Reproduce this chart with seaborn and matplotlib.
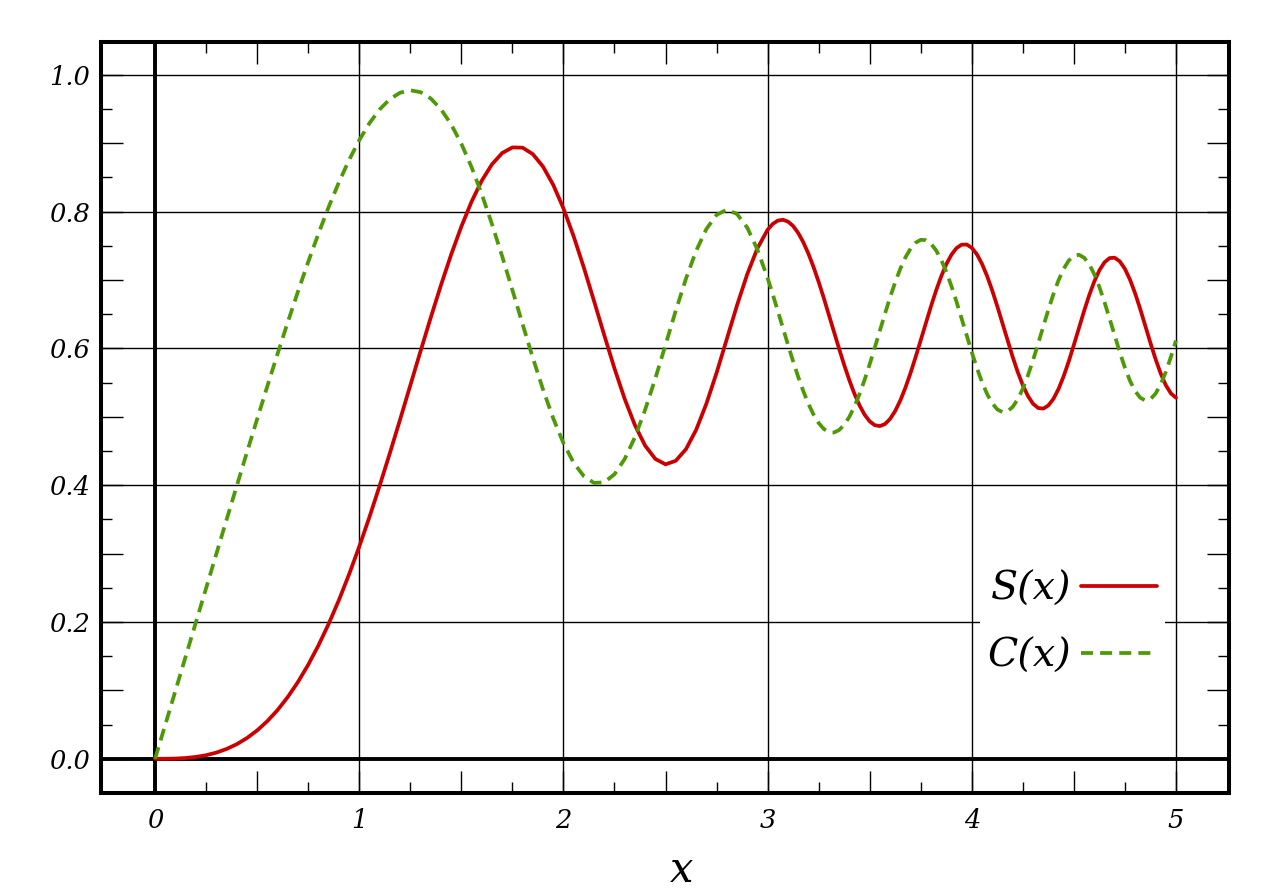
import pandas as pd
import matplotlib
matplotlib.use("Agg")
import matplotlib.pyplot as plt
import seaborn as sns
from matplotlib.ticker import MultipleLocator, FixedLocator, FuncFormatter

# values
x = [0.0, 0.05, 0.1, 0.15, 0.2, 0.25, 0.3, 0.35, 0.4, 0.45,
     0.5, 0.55, 0.6, 0.65, 0.7, 0.75, 0.8, 0.85, 0.9, 0.95,
     1.0, 1.05, 1.1, 1.15, 1.2, 1.25, 1.3, 1.35, 1.4, 1.45,
     1.5, 1.55, 1.6, 1.65, 1.7, 1.75, 1.8, 1.85, 1.9, 1.95,
     2.0, 2.05, 2.1, 2.15, 2.2, 2.25, 2.3, 2.35, 2.4, 2.45,
     2.5, 2.55, 2.6, 2.65, 2.7, 2.75, 2.8, 2.85, 2.9, 2.95,
     3.0, 3.025, 3.05, 3.075, 3.1, 3.125, 3.15, 3.175, 3.2, 3.225,
     3.25, 3.275, 3.3, 3.325, 3.35, 3.375, 3.4, 3.425, 3.45, 3.475,
     3.5, 3.525, 3.55, 3.575, 3.6, 3.625, 3.65, 3.675, 3.7, 3.725,
     3.75, 3.775, 3.8, 3.825, 3.85, 3.875, 3.9, 3.925, 3.95, 3.975,
     4.0, 4.025, 4.05, 4.075, 4.1, 4.125, 4.15, 4.175, 4.2, 4.225,
     4.25, 4.275, 4.3, 4.325, 4.35, 4.375, 4.4, 4.425, 4.45, 4.475,
     4.5, 4.525, 4.55, 4.575, 4.6, 4.625, 4.65, 4.675, 4.7, 4.725,
     4.75, 4.775, 4.8, 4.825, 4.85, 4.875, 4.9, 4.925, 4.95, 4.975, 5.0]

s_vals = [0.0, 0.0000, 0.0003, 0.0011, 0.0027, 0.0052, 0.0090, 0.0143, 0.0213, 0.0303,
          0.0415, 0.0551, 0.0713, 0.0904, 0.1124, 0.1375, 0.1657, 0.1972, 0.2318, 0.2696,
          0.3103, 0.3536, 0.3994, 0.4470, 0.4961, 0.5460, 0.5959, 0.6450, 0.6924, 0.7372,
          0.7782, 0.8146, 0.8453, 0.8692, 0.8857, 0.8939, 0.8935, 0.8841, 0.8658, 0.8391,
          0.8048, 0.7639, 0.7181, 0.6691, 0.6192, 0.5707, 0.5261, 0.4878, 0.4579, 0.4384,
          0.4305, 0.4357, 0.4526, 0.4810, 0.5191, 0.5643, 0.6135, 0.6629, 0.7084, 0.7464,
          0.7735, 0.7820, 0.7869, 0.7881, 0.7854, 0.7789, 0.7687, 0.7551, 0.7384, 0.7189,
          0.6972, 0.6737, 0.6492, 0.6243, 0.5996, 0.5758, 0.5537, 0.5338, 0.5168, 0.5031,
          0.4933, 0.4877, 0.4864, 0.4895, 0.4970, 0.5086, 0.5240, 0.5427, 0.5641, 0.5875,
          0.6121, 0.6371, 0.6615, 0.6845, 0.7052, 0.7230, 0.7369, 0.7467, 0.7517, 0.7519,
          0.7471, 0.7376, 0.7236, 0.7058, 0.6848, 0.6615, 0.6369, 0.6119, 0.5878, 0.5655,
          0.5461, 0.5304, 0.5191, 0.5129, 0.5120, 0.5166, 0.5263, 0.5408, 0.5594, 0.5812,
          0.6052, 0.6301, 0.6547, 0.6777, 0.6979, 0.7143, 0.7259, 0.7321, 0.7326, 0.7272,
          0.7163, 0.7004, 0.6805, 0.6575, 0.6329, 0.6080, 0.5844, 0.5634, 0.5464, 0.5343, 0.5279]

c_vals = [0.0, 0.0500, 0.1000, 0.1500, 0.2000, 0.2499, 0.2998, 0.3495, 0.3990, 0.4482,
          0.4969, 0.5450, 0.5923, 0.6385, 0.6834, 0.7266, 0.7678, 0.8067, 0.8427, 0.8755,
          0.9045, 0.9294, 0.9495, 0.9645, 0.9739, 0.9774, 0.9747, 0.9655, 0.9498, 0.9276,
          0.8992, 0.8650, 0.8255, 0.7817, 0.7346, 0.6853, 0.6354, 0.5863, 0.5399, 0.4977,
          0.4615, 0.4328, 0.4131, 0.4033, 0.4042, 0.4160, 0.4383, 0.4702, 0.5102, 0.5561,
          0.6053, 0.6551, 0.7019, 0.7427, 0.7746, 0.7953, 0.8029, 0.7966, 0.7767, 0.7445,
          0.7028, 0.6793, 0.6548, 0.6299, 0.6051, 0.5810, 0.5582, 0.5373, 0.5188, 0.5032,
          0.4909, 0.4823, 0.4776, 0.4771, 0.4806, 0.4883, 0.4998, 0.5149, 0.5332, 0.5541,
          0.5770, 0.6013, 0.6263, 0.6510, 0.6749, 0.6969, 0.7166, 0.7331, 0.7459, 0.7546,
          0.7588, 0.7583, 0.7531, 0.7435, 0.7296, 0.7120, 0.6913, 0.6684, 0.6439, 0.6190,
          0.5945, 0.5714, 0.5507, 0.5333, 0.5198, 0.5108, 0.5069, 0.5081, 0.5144, 0.5256,
          0.5412, 0.5606, 0.5829, 0.6071, 0.6320, 0.6566, 0.6795, 0.6998, 0.7164, 0.7285,
          0.7355, 0.7369, 0.7327, 0.7231, 0.7085, 0.6897, 0.6676, 0.6435, 0.6186, 0.5942,
          0.5718, 0.5525, 0.5376, 0.5279, 0.5239, 0.5259, 0.5339, 0.5474, 0.5655, 0.5874, 0.6115]

df = pd.DataFrame({"x": x, "S": s_vals, "C": c_vals})

sns.set_style("ticks")
plt.rcParams["font.family"] = ["DejaVu Serif"]
plt.rcParams["font.style"] = "italic"
plt.rcParams["text.color"] = "black"
plt.rcParams["axes.labelcolor"] = "black"
plt.rcParams["xtick.color"] = "black"
plt.rcParams["ytick.color"] = "black"

fig, ax = plt.subplots(figsize=(12.8, 8.96), dpi=100)
fig.subplots_adjust(left=0.0789, right=0.9602, top=0.9531, bottom=0.115)

# grid only at the labelled positions
for gx in range(0, 6):
    ax.axvline(gx, color="black", lw=1.0, zorder=1)
for gy in [0.2, 0.4, 0.6, 0.8, 1.0]:
    ax.axhline(gy, color="black", lw=1.0, zorder=1)
ax.axvline(0, color="black", lw=2.8, zorder=2)
ax.axhline(0, color="black", lw=2.8, zorder=2)

sns.lineplot(data=df, x="x", y="S", ax=ax, color="#cc0000", lw=2.7,
             estimator=None, label="S(x)", zorder=3)
sns.lineplot(data=df, x="x", y="C", ax=ax, color="#4e9a06", lw=2.7,
             estimator=None, label="C(x)", zorder=3)
ax.lines[-1].set_dashes((3.2, 1.9))

ax.set_xlim(-0.265, 5.26)
ax.set_ylim(-0.05, 1.048)

ax.xaxis.set_major_locator(MultipleLocator(0.5))
ax.xaxis.set_minor_locator(FixedLocator([0.25 + 0.5 * i for i in range(10)]))
ax.yaxis.set_major_locator(MultipleLocator(0.1))
ax.yaxis.set_minor_locator(FixedLocator([0.05 + 0.1 * i for i in range(10)]))
ax.xaxis.set_major_formatter(FuncFormatter(
    lambda v, p: f"{int(round(v))}" if abs(v - round(v)) < 1e-6 else ""))
ax.yaxis.set_major_formatter(FuncFormatter(
    lambda v, p: f"{v:.1f}" if abs(v * 5 - round(v * 5)) < 1e-6 else ""))

ax.tick_params(which="both", direction="in", top=True, right=True,
               width=1.0, color="black", labelsize=18.5)
ax.tick_params(which="major", length=16)
ax.tick_params(which="minor", length=8)
ax.tick_params(axis="x", pad=11)
ax.tick_params(axis="y", pad=8)

for sp in ax.spines.values():
    sp.set_linewidth(2.9)
    sp.set_color("black")

ax.set_xlabel("x", fontsize=30)
ax.xaxis.set_label_coords(0.515, -0.1032)
ax.xaxis.label.set_va("center")
ax.set_ylabel("")

leg = ax.legend(loc="center right", bbox_to_anchor=(0.9433, 0.2264),
                borderaxespad=0, markerfirst=False, frameon=True, fancybox=False,
                prop={"family": "DejaVu Serif", "style": "italic", "size": 28.5},
                handlelength=1.92, handletextpad=0.25, labelspacing=0.75,
                borderpad=0.2)
leg.get_frame().set_facecolor("white")
leg.get_frame().set_edgecolor("none")
leg.get_frame().set_alpha(1.0)
leg.set_zorder(4)

fig.savefig("out.png", dpi=100)
